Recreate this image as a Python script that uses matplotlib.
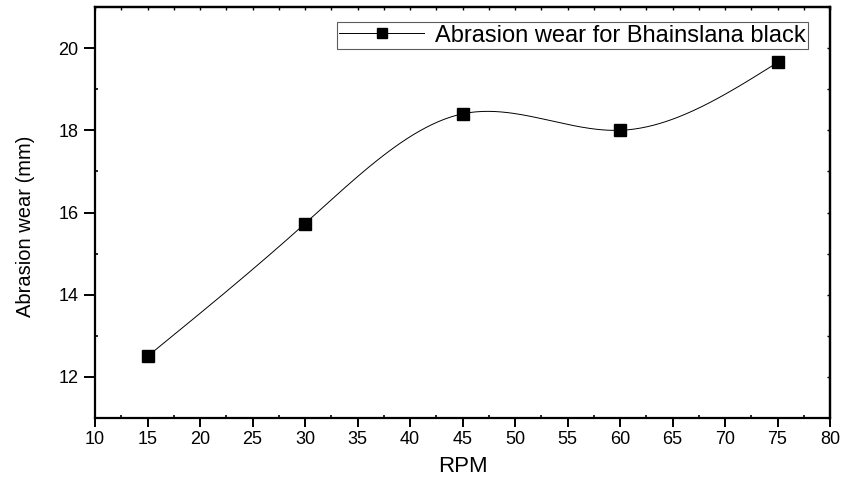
import numpy as np
import matplotlib
matplotlib.use('Agg')
import matplotlib.pyplot as plt
from matplotlib.ticker import MultipleLocator

plt.rcParams['font.family'] = ['Liberation Sans', 'DejaVu Sans']

rpm = [15, 30, 45, 60, 75]
wear = [12.5, 15.73, 18.4, 18.0, 19.65]


def spline_curve(x, y, n=300):
    # natural cubic spline for the connecting line
    x = np.asarray(x, float)
    y = np.asarray(y, float)
    h = np.diff(x)
    k = len(x)
    A = np.zeros((k, k))
    b = np.zeros(k)
    A[0, 0] = A[-1, -1] = 1
    for i in range(1, k - 1):
        A[i, i - 1] = h[i - 1]
        A[i, i] = 2 * (h[i - 1] + h[i])
        A[i, i + 1] = h[i]
        b[i] = 6 * ((y[i + 1] - y[i]) / h[i] - (y[i] - y[i - 1]) / h[i - 1])
    m = np.linalg.solve(A, b)
    xs = np.linspace(x[0], x[-1], n)
    idx = np.clip(np.searchsorted(x, xs) - 1, 0, k - 2)
    t0 = x[idx]
    t1 = x[idx + 1]
    hh = t1 - t0
    ys = (m[idx] * (t1 - xs) ** 3 / (6 * hh) + m[idx + 1] * (xs - t0) ** 3 / (6 * hh)
          + (y[idx] / hh - m[idx] * hh / 6) * (t1 - xs)
          + (y[idx + 1] / hh - m[idx + 1] * hh / 6) * (xs - t0))
    return xs, ys


fig = plt.figure(figsize=(8.44, 4.8), dpi=100)
ax = fig.add_axes([95 / 844, 1 - 418 / 480, (830 - 95) / 844, (418 - 7) / 480])

xs, ys = spline_curve(rpm, wear)
ax.plot(xs, ys, color='black', linewidth=0.7)
ax.plot(rpm, wear, linestyle='none', marker='s', markersize=8.5, color='black')
# legend handle: line with square marker
ax.plot([], [], color='black', linewidth=0.7, marker='s', markersize=7,
        label='Abrasion wear for Bhainslana black')

ax.set_xlim(10, 80)
ax.set_ylim(11, 21)
ax.xaxis.set_major_locator(MultipleLocator(5))
ax.xaxis.set_minor_locator(MultipleLocator(2.5))
ax.yaxis.set_major_locator(MultipleLocator(2))
ax.yaxis.set_minor_locator(MultipleLocator(1))
ax.tick_params(axis='x', which='major', direction='out', length=6.5, width=1.4,
               labelsize=13, pad=2.5)
ax.tick_params(axis='y', which='major', direction='out', length=8, width=1.4,
               labelsize=13, pad=4)
ax.tick_params(which='minor', direction='in', length=2.5, width=1.2)
for spine in ax.spines.values():
    spine.set_linewidth(1.6)

# small inward ticks on the top and right frame
top = ax.secondary_xaxis('top')
top.xaxis.set_major_locator(MultipleLocator(2.5))
top.tick_params(direction='in', length=2, width=1, labeltop=False)
top.spines['top'].set_linewidth(1.6)
right = ax.secondary_yaxis('right')
right.yaxis.set_major_locator(MultipleLocator(1))
right.tick_params(direction='in', length=2, width=1, labelright=False)
right.spines['right'].set_linewidth(1.6)

ax.set_xlabel('RPM', fontsize=16, labelpad=6)
ax.set_ylabel('Abrasion wear (mm)', fontsize=14.5)
ax.yaxis.set_label_coords(-0.082, 0.467)

leg = ax.legend(loc='upper right', bbox_to_anchor=(0.97, 0.963), fontsize=17,
                frameon=True, fancybox=False, edgecolor='#333333', borderpad=0.1,
                handlelength=3.6, handletextpad=0.45, borderaxespad=0)
leg.get_frame().set_linewidth(0.8)

fig.savefig('out.png', dpi=100)
